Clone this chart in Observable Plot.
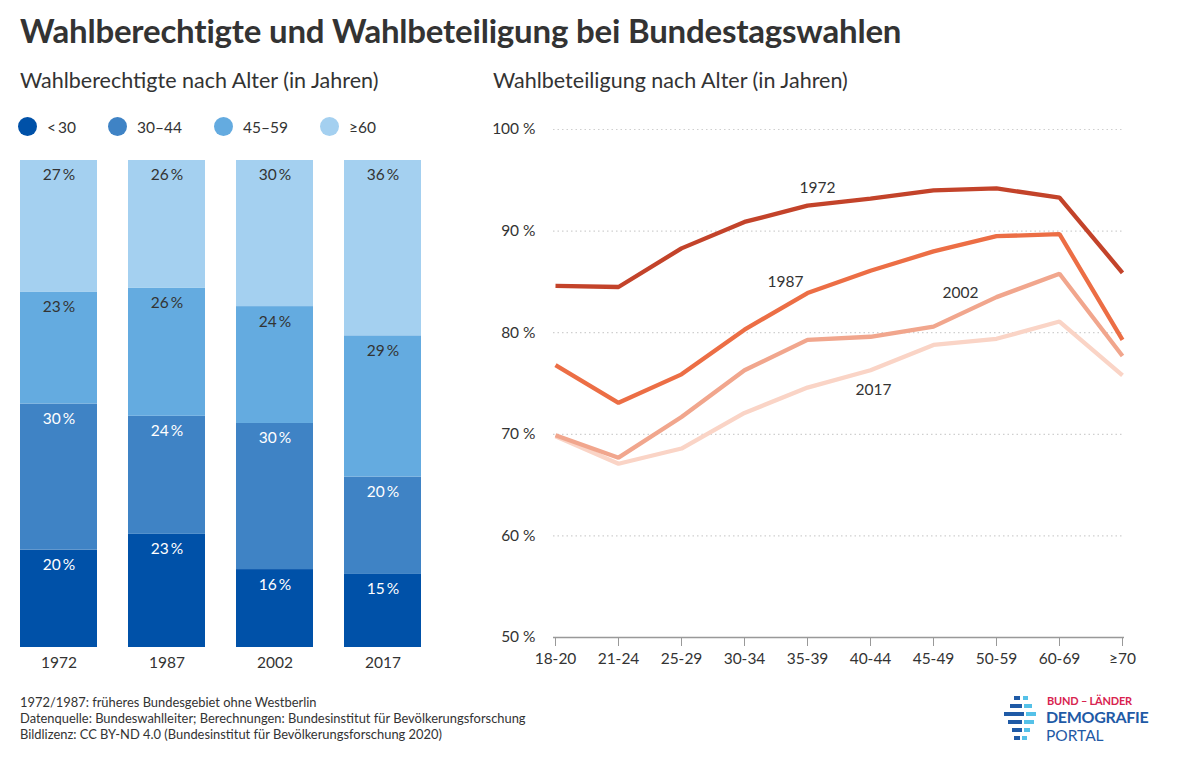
<!DOCTYPE html>
<html>
<head>
<meta charset="utf-8">
<script src="https://cdn.jsdelivr.net/npm/d3@7"></script>
<script src="https://cdn.jsdelivr.net/npm/@observablehq/plot@0.6"></script>
<style>
  html, body { margin: 0; padding: 0; background: #fff; }
  body { font-family: Lato, "Noto Sans", sans-serif; color: #333; }
  #page { position: relative; width: 1200px; height: 764px; overflow: hidden; }
  .abs { position: absolute; }
  #title { left: 20px; top: 10px; font-size: 33px; font-weight: 700; color: #333; letter-spacing: -0.2px; white-space: nowrap; }
  .sub { top: 67px; font-size: 21.5px; color: #333; white-space: nowrap; }
  #legend { left: 18px; top: 117px; display: flex; font-size: 15.5px; }
  .li { display: flex; align-items: center; position: absolute; top: 0; white-space: nowrap; }
  .dot { width: 19px; height: 19px; border-radius: 50%; margin-right: 10px; }
  #foot { left: 20px; top: 694px; font-size: 12.9px; line-height: 16px; color: #333; white-space: nowrap; }
  #logo { left: 1004px; top: 694px; width: 150px; height: 52px; }
  .lb { position: absolute; height: 4px; }
</style>
</head>
<body>
<div id="page">
  <div id="title" class="abs">Wahlberechtigte und Wahlbeteiligung bei Bundestagswahlen</div>
  <div class="abs sub" style="left:20px">Wahlberechtigte nach Alter (in Jahren)</div>
  <div class="abs sub" style="left:493px">Wahlbeteiligung nach Alter (in Jahren)</div>
  <div id="legend" class="abs"></div>
  <div id="left" class="abs" style="left:0;top:150px"></div>
  <div id="right" class="abs" style="left:480px;top:110px"></div>
  <div id="foot" class="abs">1972/1987: früheres Bundesgebiet ohne Westberlin<br>Datenquelle: Bundeswahlleiter; Berechnungen: Bundesinstitut für Bevölkerungsforschung<br>Bildlizenz: CC BY-ND 4.0 (Bundesinstitut für Bevölkerungsforschung 2020)</div>
  <div id="logo" class="abs"></div>
</div>
<script>
// ---- Data: Wahlberechtigte nach Alter (share in %) ----
const years = ["1972", "1987", "2002", "2017"];
const ageGroups = ["<30", "30–44", "45–59", "≥60"];
const shareUnder30 = [20, 23, 16, 15];
const share30to44 = [30, 24, 30, 20];
const share45to59 = [23, 26, 24, 29];
const share60plus = [27, 26, 30, 36];
const groupColors = ["#0051a8", "#3f83c5", "#64abe0", "#a4d0f0"];
const labelColors = ["#ffffff", "#ffffff", "#333333", "#333333"];

// ---- Data: Wahlbeteiligung nach Alter (%) ----
const turnoutAges = ["18-20", "21-24", "25-29", "30-34", "35-39", "40-44", "45-49", "50-59", "60-69", "≥70"];
const turnout1972 = [84.6, 84.5, 88.3, 90.9, 92.5, 93.2, 94.0, 94.2, 93.3, 85.9];
const turnout1987 = [76.8, 73.1, 75.9, 80.3, 83.9, 86.1, 88.0, 89.5, 89.7, 79.3];
const turnout2002 = [69.9, 67.7, 71.7, 76.3, 79.3, 79.6, 80.6, 83.5, 85.8, 77.7];
const turnout2017 = [69.8, 67.1, 68.6, 72.1, 74.6, 76.3, 78.8, 79.4, 81.1, 75.8];
const lineYears = ["1972", "1987", "2002", "2017"];
const lineColors = ["#c3432a", "#ec6e45", "#f1a68d", "#fad4c6"];
// line label anchors: [age group, value, horizontal nudge]
const lineLabelAge = ["35-39", "35-39", "45-49", "40-44"];
const lineLabelValue = [94.2, 85.0, 83.9, 74.4];
const lineLabelDx = [10, -22, 27, 3];
const yTicks = [50, 60, 70, 80, 90, 100];

// ---- Legend ----
const legend = document.getElementById("legend");
const legendX = [0, 90, 196, 302];
ageGroups.forEach((g, i) => {
  const d = document.createElement("div");
  d.className = "li";
  d.style.left = legendX[i] + "px";
  d.innerHTML = `<span class="dot" style="background:${groupColors[i]}"></span><span>${g.replace("<", "&lt;&#8201;")}</span>`;
  legend.appendChild(d);
});

// ---- Left chart: stacked bars ----
const shareSeries = [shareUnder30, share30to44, share45to59, share60plus];
const barData = [];
ageGroups.forEach((g, gi) => years.forEach((y, yi) => barData.push({year: y, group: g, gi, value: shareSeries[gi][yi]})));

const left = Plot.plot({
  width: 440, height: 530,
  marginLeft: 18, marginRight: 17, marginTop: 10, marginBottom: 33,
  style: {fontFamily: "Lato, 'Noto Sans', sans-serif", fontSize: "15.5px", color: "#333"},
  x: {domain: years, paddingInner: 0.284, paddingOuter: 0, label: null, tickSize: 0, tickPadding: 9},
  y: {axis: null, domain: [0, 1]},
  color: {domain: ageGroups, range: groupColors},
  marks: [
    Plot.barY(barData, Plot.stackY({x: "year", y: "value", fill: "group", order: null, offset: "normalize"})),
    Plot.text(barData, Plot.stackY2({x: "year", y: "value", order: null, offset: "normalize",
      text: d => d.value + "\u2009%", fill: d => labelColors[d.gi], dy: 15, fontSize: 15.5})),
    Plot.axisX({tickSize: 0, tickPadding: 9, fontSize: 15.5, label: null})
  ]
});
document.getElementById("left").appendChild(left);

// ---- Right chart: lines ----
const turnoutSeries = [turnout1972, turnout1987, turnout2002, turnout2017];
const lineData = [];
lineYears.forEach((y, yi) => turnoutAges.forEach((a, ai) => lineData.push({year: y, age: a, value: turnoutSeries[yi][ai]})));
const labelData = lineYears.map((y, i) => ({year: y, age: lineLabelAge[i], value: lineLabelValue[i], dx: lineLabelDx[i]}));

const right = Plot.plot({
  width: 680, height: 560,
  marginLeft: 73, marginRight: 36, marginTop: 19, marginBottom: 33,
  style: {fontFamily: "Lato, 'Noto Sans', sans-serif", fontSize: "15.5px", color: "#333"},
  x: {type: "point", domain: turnoutAges, padding: 0, label: null},
  y: {domain: [50, 100], label: null},
  color: {domain: lineYears, range: lineColors},
  marks: [
    Plot.ruleY(yTicks.filter(v => v > 50), {y: d => d, stroke: "#cfcfcf", strokeDasharray: "1.5,3", strokeWidth: 1.2}),
    Plot.axisY({ticks: yTicks, tickSize: 0, tickPadding: 18, tickFormat: d => d + " %", fontSize: 15.5, label: null}),
    Plot.ruleY([50], {stroke: "#999", strokeWidth: 1.5}),
    Plot.axisX({tickSize: 9, tickPadding: 6, stroke: "#999", fontSize: 15.5, label: null}),
    Plot.line(lineData.slice().reverse(), {x: "age", y: "value", z: "year", stroke: "year", strokeWidth: 4.3, strokeLinejoin: "miter", strokeLinecap: "butt"}),
    Plot.text(labelData, {x: "age", y: "value", text: "year", fill: "#333", fontSize: 15.5})
  ]
});
// apply per-label horizontal nudges
right.querySelectorAll("g[aria-label='text'] text").forEach((t, i) => {
  const tr = t.getAttribute("transform");
  t.setAttribute("transform", (tr || "") + ` translate(${labelData[i].dx},0)`);
});
document.getElementById("right").appendChild(right);

// ---- Logo ----
const logo = document.getElementById("logo");
const bars = [
  [10,2,6,"#1f5aa6"],[19,2,5,"#55c1e8"],
  [6,10,12,"#1f5aa6"],[20,10,8,"#55c1e8"],
  [0,18,20,"#1f5aa6"],[22,18,10,"#55c1e8"],
  [4,26,14,"#1f5aa6"],[20,26,10,"#55c1e8"],
  [8,34,10,"#1f5aa6"],[20,34,6,"#55c1e8"],
  [10,42,6,"#1f5aa6"],[18,42,5,"#55c1e8"]
];
bars.forEach(([x,y,w,c]) => {
  const b = document.createElement("div");
  b.className = "lb"; b.style.left = x + "px"; b.style.top = y + "px"; b.style.width = w + "px"; b.style.background = c;
  logo.appendChild(b);
});
logo.insertAdjacentHTML("beforeend",
  `<div style="position:absolute;left:43px;top:0;font-size:11px;font-weight:700;color:#d8234f;white-space:nowrap;letter-spacing:-0.2px">BUND – LÄNDER</div>
   <div style="position:absolute;left:42px;top:13px;font-size:16px;font-weight:700;color:#1f5aa6;white-space:nowrap;letter-spacing:-0.3px">DEMOGRAFIE</div>
   <div style="position:absolute;left:42px;top:32px;font-size:15.5px;color:#1f5aa6;white-space:nowrap">PORTAL</div>`);
</script>
</body>
</html>
